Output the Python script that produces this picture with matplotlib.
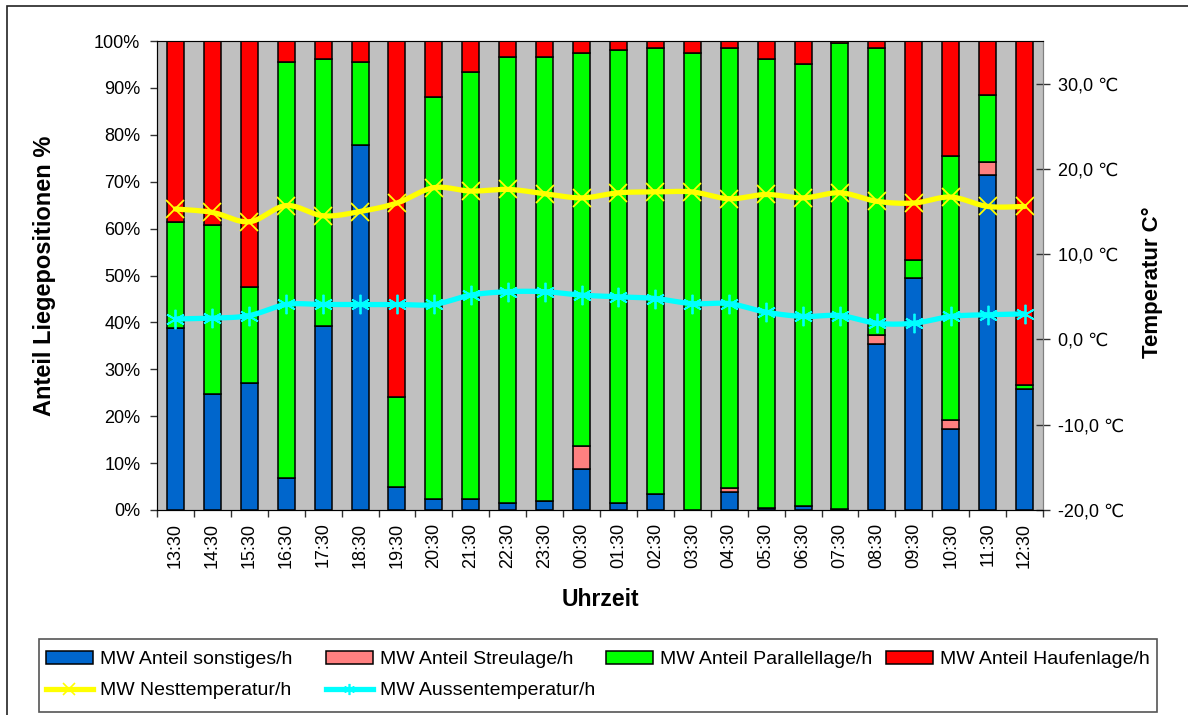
import numpy as np
import matplotlib
matplotlib.use("Agg")
import matplotlib.pyplot as plt
from matplotlib.patches import Rectangle, Patch
from matplotlib.lines import Line2D
from matplotlib.ticker import FuncFormatter, FixedLocator

plt.rcParams['font.family'] = ['Liberation Sans', 'DejaVu Sans']

# Hourly categories
zeiten = ["13:30", "14:30", "15:30", "16:30", "17:30", "18:30", "19:30", "20:30",
          "21:30", "22:30", "23:30", "00:30", "01:30", "02:30", "03:30", "04:30",
          "05:30", "06:30", "07:30", "08:30", "09:30", "10:30", "11:30", "12:30"]

# Share of lying positions (percent)
sonstiges = [38.9, 24.8, 27.1, 6.8, 39.3, 77.8, 4.9, 2.4, 2.4, 1.5, 2.0, 8.8,
             1.5, 3.5, 0.0, 3.8, 0.5, 0.8, 0.3, 35.4, 49.5, 17.3, 71.5, 25.8]
streulage = [0.0, 0.0, 0.0, 0.0, 0.0, 0.0, 0.0, 0.0, 0.0, 0.0, 0.0, 4.9,
             0.0, 0.0, 0.0, 0.8, 0.0, 0.0, 0.0, 1.9, 0.0, 1.9, 2.6, 0.0]
parallellage = [22.6, 35.9, 20.5, 88.7, 56.9, 17.7, 19.2, 85.6, 91.0, 95.0, 94.5, 83.7,
                96.5, 95.0, 97.4, 93.9, 95.7, 94.3, 99.3, 61.2, 3.9, 56.2, 14.3, 0.9]
haufenlage = [38.5, 39.3, 52.4, 4.5, 3.8, 4.5, 75.9, 12.0, 6.6, 3.5, 3.5, 2.6,
              2.0, 1.5, 2.6, 1.5, 3.8, 4.9, 0.4, 1.5, 46.6, 24.6, 11.6, 73.3]

# Mean temperatures (degrees Celsius)
nesttemperatur = [15.3, 14.9, 13.8, 15.7, 14.5, 15.0, 16.0, 17.8, 17.4, 17.6, 17.1, 16.6,
                  17.2, 17.3, 17.3, 16.5, 17.0, 16.6, 17.2, 16.2, 16.0, 16.7, 15.6, 15.6]
aussentemperatur = [2.4, 2.5, 2.8, 4.1, 4.1, 4.1, 4.1, 4.1, 5.2, 5.6, 5.6, 5.2,
                    5.0, 4.8, 4.2, 4.2, 3.2, 2.7, 2.8, 1.9, 1.9, 2.7, 2.9, 3.0]

segmente = [
    ("MW Anteil sonstiges/h", sonstiges, "#0066CC"),
    ("MW Anteil Streulage/h", streulage, "#FF8080"),
    ("MW Anteil Parallellage/h", parallellage, "#00FF00"),
    ("MW Anteil Haufenlage/h", haufenlage, "#FF0000"),
]


def glatt(y, n=20):
    """Smoothed curve through the points (Catmull-Rom segments)."""
    y = np.asarray(y, float)
    x = np.arange(len(y), dtype=float)
    px = np.concatenate([[x[0]], x, [x[-1]]])
    py = np.concatenate([[y[0]], y, [y[-1]]])
    xs, ys = [], []
    t = np.linspace(0, 1, n, endpoint=False)
    for i in range(1, len(px) - 2):
        for arr, out in ((px, xs), (py, ys)):
            p0, p1, p2, p3 = arr[i - 1], arr[i], arr[i + 1], arr[i + 2]
            c1 = p1 + (p2 - p0) / 6.0
            c2 = p2 - (p3 - p1) / 6.0
            out.extend((1 - t) ** 3 * p1 + 3 * (1 - t) ** 2 * t * c1
                       + 3 * (1 - t) * t ** 2 * c2 + t ** 3 * p2)
    xs.append(x[-1]); ys.append(y[-1])
    return np.array(xs), np.array(ys)


W, H = 1188, 715
fig = plt.figure(figsize=(W / 100, H / 100), dpi=100)
fig.patch.set_facecolor("white")

# outer chart border
fig.add_artist(Rectangle((7 / W, -0.02), 1.1, 1 - 6 / H + 0.02, transform=fig.transFigure,
                         fill=False, edgecolor="#222222", linewidth=1.2))

L, R, B, T = 157 / W, 1043 / W, 1 - 510 / H, 1 - 41 / H
AW, AH = (R - L) * W, (T - B) * H
ax = fig.add_axes([L, B, R - L, T - B])
ax.set_facecolor("#C0C0C0")

x = np.arange(len(zeiten))
unten = np.zeros(len(zeiten))
for name, werte, farbe in segmente:
    ax.bar(x, werte, width=0.46, bottom=unten, color=farbe, edgecolor="black",
           linewidth=1.1, label=name, zorder=2)
    unten = unten + np.asarray(werte)

ax.set_xlim(-0.5, len(zeiten) - 0.5)
ax.set_ylim(0, 100)
ax.set_yticks(np.arange(0, 101, 10))
ax.yaxis.set_major_formatter(FuncFormatter(lambda v, p: f"{v:.0f}%"))
ax.set_xticks(x)
ax.set_xticklabels(zeiten, rotation=90, fontsize=13)
ax.xaxis.set_minor_locator(FixedLocator(np.arange(-0.5, len(zeiten), 1.0)))
ax.tick_params(axis="x", which="major", length=0, pad=9)
ax.tick_params(axis="x", which="minor", length=5, width=1, color="#333333", direction="out")
ax.tick_params(axis="y", length=5, width=1, color="#333333", direction="out", labelsize=13, pad=7)
for s in ax.spines.values():
    s.set_color("#808080")
ax.spines["left"].set_color("#333333")
ax.spines["bottom"].set_color("#333333")

ax.set_ylabel("Anteil Liegepositionen %", fontsize=17, fontweight="bold")
ax.yaxis.set_label_coords(-(157 - 56) / AW, 0.5)
ax.set_xlabel("Uhrzeit", fontsize=16.5, fontweight="bold")
ax.xaxis.set_label_coords(0.5, -(588 - 510) / AH)

# temperature axis
ax2 = ax.twinx()
ax2.set_ylim(-20, 35)
ax2.set_yticks(np.arange(-20, 31, 10))
ax2.yaxis.set_major_formatter(FuncFormatter(lambda v, p: f"{v:.1f}".replace(".", ",") + " \u2103"))
ax2.tick_params(axis="y", length=10, width=1, color="#333333", direction="inout", labelsize=13, pad=6)
ax2.spines["right"].set_color("#808080")
ax2.set_ylabel("Temperatur C°", fontsize=16, fontweight="bold")
ax2.yaxis.set_label_coords(1 + (1142 - 1043) / AW, 0.485)

gx, gy = glatt(nesttemperatur)
ax2.plot(gx, gy, color="#FFFF00", linewidth=3.8, zorder=3, solid_capstyle="round")
ax2.plot(x, nesttemperatur, linestyle="none", marker="x", markersize=13,
         markeredgewidth=1.3, color="#FFFF00", zorder=4)
gx, gy = glatt(aussentemperatur)
ax2.plot(gx, gy, color="#00FFFF", linewidth=3.8, zorder=3, solid_capstyle="round")
ax2.plot(x, aussentemperatur, linestyle="none", marker=(6, 2, 0), markersize=14,
         markeredgewidth=1.3, color="#00FFFF", zorder=4)

# legend block
fig.add_artist(Rectangle((39 / W, 1 - 712 / H), (1157 - 39) / W, (712 - 639) / H,
                         transform=fig.transFigure, fill=True, facecolor="white",
                         edgecolor="#555555", linewidth=1.2))

balken = [Patch(facecolor=f, edgecolor="black", linewidth=1.1, label=n) for n, _, f in segmente]
linien = [Line2D([], [], color="#FFFF00", linewidth=3.8, marker="x", markersize=8,
                 markeredgewidth=1.2, label="MW Nesttemperatur/h"),
          Line2D([], [], color="#00FFFF", linewidth=3.8, marker=(6, 2, 0), markersize=8,
                 markeredgewidth=1.2, label="MW Aussentemperatur/h")]
spalten = [[balken[0], linien[0]], [balken[1], linien[1]], [balken[2]], [balken[3]]]
for i, eintraege in enumerate(spalten):
    fig.legend(handles=eintraege, loc="upper left",
               bbox_to_anchor=((46 + 280 * i) / W, 1 - 651 / H),
               frameon=False, fontsize=14, handlelength=2.4, handleheight=0.62,
               handletextpad=0.4, labelspacing=0.71, borderpad=0.0, borderaxespad=0.0)

fig.savefig("out.png", dpi=100)
